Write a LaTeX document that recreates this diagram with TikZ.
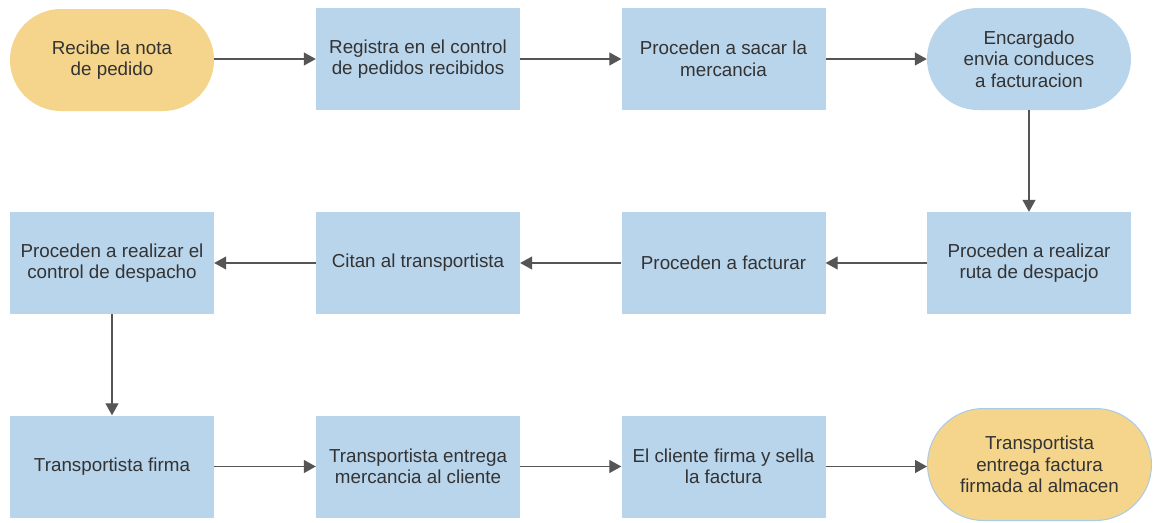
\documentclass[tikz,border=0pt]{standalone}
\usepackage{fontspec}
\setmainfont{Liberation Sans}
\usetikzlibrary{arrows.meta}
\definecolor{boxblue}{HTML}{B9D5EC}
\definecolor{ovalyellow}{HTML}{F4D58B}
\definecolor{edgeblue}{HTML}{A9CBE6}
\definecolor{txt}{HTML}{333333}
\definecolor{arr}{HTML}{555555}
\tikzset{
  base/.style={minimum width=204pt, minimum height=102pt, inner sep=2pt, align=center, text=txt,
    font=\fontsize{18.8}{21.5}\selectfont},
  stepbox/.style={base, rectangle, fill=boxblue},
  term/.style={base, rectangle, rounded corners=51pt},
  conn/.style={draw=arr, line width=1.3pt, -{Triangle[length=12pt,width=13pt]}},
}
\begin{document}
\begin{tikzpicture}[x=1pt,y=-1pt]
\useasboundingbox (0,0) rectangle (1156,522);
\fill[white] (0,0) rectangle (1156,522);
% row 1
\node[term, fill=ovalyellow] (n1) at (112,60) {Recibe la nota\\de pedido};
\node[stepbox] (n2) at (418,59) {Registra en el control\\de pedidos recibidos};
\node[stepbox] (n3) at (723.5,59) {Proceden a sacar la\\mercancia};
\node[term, fill=boxblue] (n4) at (1029,59) {Encargado\\envia conduces\\a facturacion};
% row 2
\node[stepbox] (n5) at (1029,263) {Proceden a realizar\\ruta de despacjo};
\node[stepbox] (n6) at (723.5,263) {Proceden a facturar};
\node[stepbox] (n7) at (418,263) {Citan al transportista};
\node[stepbox] (n8) at (112,263) {Proceden a realizar el\\control de despacho};
% row 3
\node[stepbox] (n9) at (112,466.5) {Transportista firma};
\node[stepbox] (n10) at (418,466.5) {Transportista entrega\\mercancia al cliente};
\node[stepbox] (n11) at (723.5,466.5) {El cliente firma y sella\\la factura};
\node[term, fill=ovalyellow, draw=edgeblue, line width=1pt, minimum width=224pt, minimum height=112pt, rounded corners=56pt] (n12) at (1039.5,464.5) {Transportista\\entrega factura\\firmada al almacen};
% connectors
\draw[conn] (n1.east |- n2.east) -- (n2);
\draw[conn] (n2) -- (n3);
\draw[conn] (n3) -- (n4);
\draw[conn] (n4) -- (n5);
\draw[conn] (n5) -- (n6);
\draw[conn] (n6) -- (n7);
\draw[conn] (n7) -- (n8);
\draw[conn] (n8) -- (n9);
\draw[conn] (n9) -- (n10);
\draw[conn] (n10) -- (n11);
\draw[conn] (n11.east) -- (n12.west |- n11.east);
\end{tikzpicture}
\end{document}
